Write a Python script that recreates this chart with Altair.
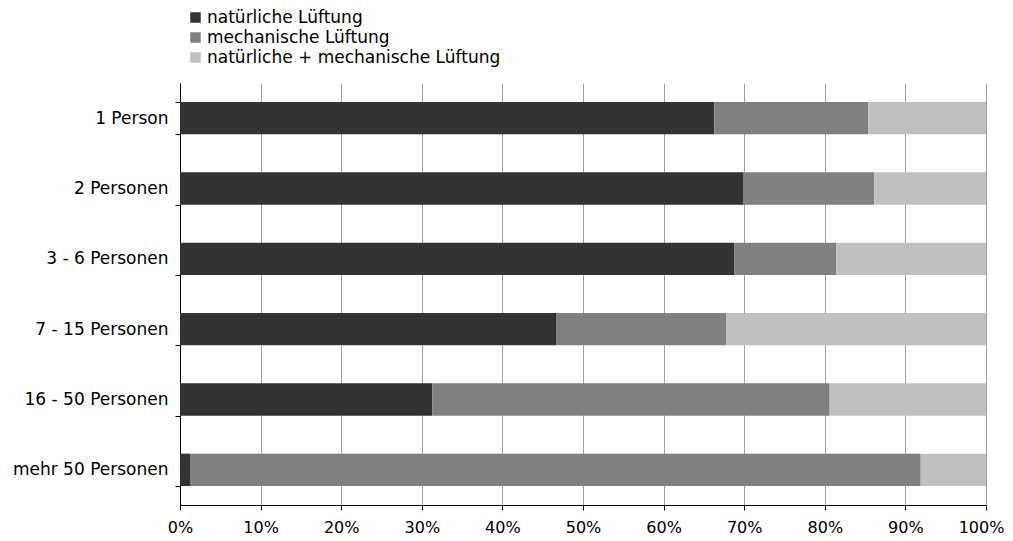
import altair as alt
import pandas as pd

categories = ["1 Person", "2 Personen", "3 - 6 Personen", "7 - 15 Personen",
              "16 - 50 Personen", "mehr 50 Personen"]
series = ["natürliche Lüftung", "mechanische Lüftung", "natürliche + mechanische Lüftung"]
natuerlich = [66.3, 69.85, 68.75, 46.65, 31.3, 1.24]
mechanisch = [19.1, 16.3, 12.65, 21.15, 49.3, 90.66]
beides = [14.6, 13.85, 18.6, 32.2, 19.4, 8.1]
colors = ["#333333", "#808080", "#c0c0c0"]

rows = []
for i, c in enumerate(categories):
    for j, (s, vals) in enumerate(zip(series, [natuerlich, mechanisch, beides])):
        rows.append({"Kategorie": c, "Serie": s, "Wert": vals[i], "Reihenfolge": j})
df = pd.DataFrame(rows)

FONT = "DejaVu Sans"
FS = 17

chart = alt.Chart(df).mark_bar().encode(
    y=alt.Y("Kategorie:N", sort=categories, title=None,
            scale=alt.Scale(paddingInner=0.54, paddingOuter=0.27),
            axis=alt.Axis(tickBand="extent", grid=False, domainColor="#000000",
                          tickColor="#000000", tickSize=5, labelPadding=7,
                          labelFontSize=FS, labelFont=FONT, labelColor="#000000",
                          labelLimit=0)),
    x=alt.X("Wert:Q", stack="normalize", title=None,
            scale=alt.Scale(domain=[0, 1]),
            axis=alt.Axis(format=".0%", values=[i / 10 for i in range(11)],
                          grid=True, gridColor="#a0a0a0", gridWidth=1,
                          domainColor="#000000", tickColor="#000000", tickSize=5,
                          labelPadding=9, labelFontSize=16, labelFont=FONT,
                          labelColor="#000000", labelFlush=False,
                          labelOffset={"condition": {"test": "datum.value >= 1", "value": -5},
                                       "value": 0})),
    color=alt.Color("Serie:N", sort=series,
                    scale=alt.Scale(domain=series, range=colors),
                    legend=alt.Legend(title=None, orient="none", legendX=7, legendY=-74,
                                      symbolType="square", symbolSize=110,
                                      symbolStrokeWidth=0, labelFontSize=FS,
                                      labelFont=FONT, labelColor="#000000",
                                      rowPadding=2, padding=0, labelOffset=3,
                                      labelLimit=0)),
    order=alt.Order("Reihenfolge:Q", sort="ascending"),
).properties(
    width=806, height=422,
    autosize=alt.AutoSizeParams(type="none"),
    padding={"left": 172, "top": 75, "right": 19, "bottom": 32},
).configure_view(stroke=None)

chart.save("out.html", embed_options={"renderer": "svg", "actions": False})
